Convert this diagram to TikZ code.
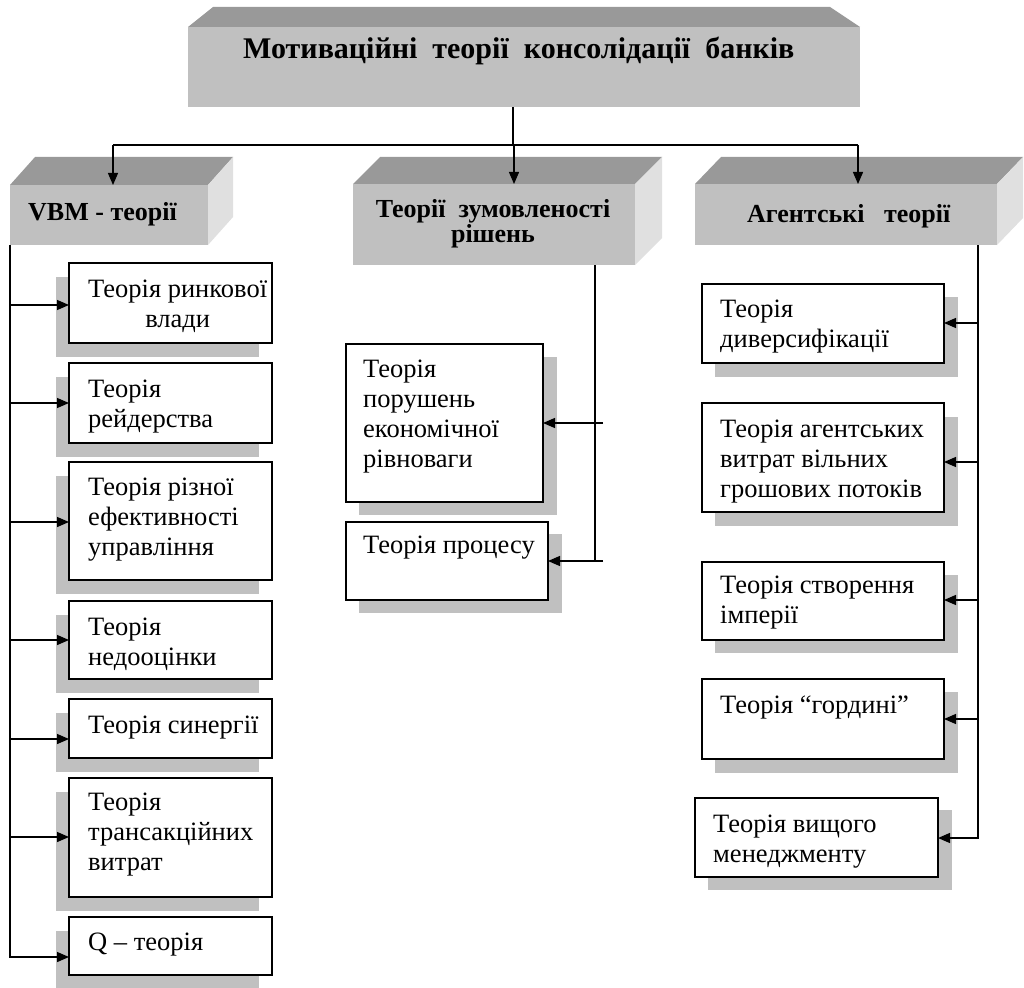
\documentclass[tikz,border=0pt]{standalone}
\usepackage{fontspec}
\setmainfont{LiberationSerif}[Extension=.ttf, UprightFont=*-Regular, BoldFont=*-Bold, ItalicFont=*-Italic, BoldItalicFont=*-BoldItalic]
\usetikzlibrary{arrows.meta}
\definecolor{frontgray}{HTML}{C0C0C0}
\definecolor{topgray}{HTML}{999999}
\definecolor{sidegray}{HTML}{E0E0E0}
\definecolor{shadowgray}{HTML}{C0C0C0}
\newcommand\bodyfont{\fontsize{26.5}{30}\selectfont}
\newcommand\headfont{\fontsize{26}{25}\selectfont\bfseries}
\newcommand\titlefont{\fontsize{30}{30}\selectfont\bfseries}
% box: name, x1, y1, x2, y2
\newcommand\bx[5]{\node[tb, minimum width={(#4-#2)*1pt}, minimum height={(#5-#3)*1pt}] (#1) at (#2,#3) {};}
% shadow: x1,y1,x2,y2
\newcommand\sh[4]{\fill[shad] (#1,#2) rectangle (#3,#4);}
% 3D box: name, x1, y1, x2, y2, dx, dy
\newcommand\cube[7]{%
  \fill[topgray] (#2,#3) -- (#2+#6,#3-#7) -- (#4+#6,#3-#7) -- (#4,#3) -- cycle;
  \fill[sidegray] (#4,#3) -- (#4+#6,#3-#7) -- (#4+#6,#5-#7) -- (#4,#5) -- cycle;
  \node[front, minimum width={(#4-#2)*1pt}, minimum height={(#5-#3)*1pt}] (#1) at (#2,#3) {};}
\tikzset{
  shad/.style={fill=shadowgray, draw=none},
  tb/.style={draw, line width=1.2pt, fill=white, inner sep=0pt, outer sep=0pt, anchor=north west},
  front/.style={fill=frontgray, draw=none, inner sep=0pt, outer sep=0pt, anchor=north west},
  tt/.style={anchor=north west, inner sep=0pt, align=left, font=\bodyfont},
  ht/.style={inner sep=0pt, font=\headfont},
  ln/.style={line width=1.3pt},
  arr/.style={line width=1.3pt, -{Triangle[length=12pt,width=10pt]}},
}
\begin{document}
\begin{tikzpicture}[x=1pt, y=-1pt]
\useasboundingbox (0,0) rectangle (1024,987);
\fill[white] (0,0) rectangle (1024,987);

% ---------- 3D headers ----------
\fill[topgray] (188,27) -- (213,7) -- (830,7) -- (860,27) -- cycle;
\node[front, minimum width=672pt, minimum height=80pt] (title) at (188,27) {};
\cube{vbm}{10}{185}{208}{245}{25}{28}
\cube{mid}{353}{184}{635}{265}{27}{27}
\cube{agt}{695}{184}{997}{245}{26}{27}

\node[inner sep=0pt, font=\titlefont, anchor=base west] (ttl) at (243,59) {Мотиваційні\ \ теорії\ \ консолідації\ \ банків};
\node[ht, anchor=base west] (hv) at (28,220) {VBM - теорії};
\node[ht, anchor=north, align=center] (hm) at (493,197) {\rule{0pt}{20pt}Теорії\ \ зумовленості\\рішень};
\node[ht, anchor=base west] (ha) at (747,222) {Агентські\ \ \ теорії};

% ---------- shadows ----------
\sh{56}{277}{259}{357}
\sh{56}{377}{259}{457}
\sh{56}{476}{259}{594}
\sh{56}{615}{259}{693}
\sh{56}{713}{259}{772}
\sh{56}{792}{259}{911}
\sh{56}{931}{259}{989}
\sh{359}{357}{557}{515}
\sh{359}{534}{562}{613}
\sh{715}{297}{958}{377}
\sh{715}{417}{958}{526}
\sh{715}{575}{958}{653}
\sh{715}{692}{958}{773}
\sh{708}{810}{952}{890}

% ---------- boxes ----------
\bx{rv}{69}{263}{272}{343}
\bx{rd}{69}{363}{272}{443}
\bx{rz}{69}{462}{272}{580}
\bx{nd}{69}{601}{272}{679}
\bx{sn}{69}{699}{272}{758}
\bx{tr}{69}{778}{272}{897}
\bx{q}{69}{917}{272}{975}
\bx{pe}{346}{344}{543}{502}
\bx{pr}{346}{522}{548}{600}
\bx{dv}{702}{284}{944}{363}
\bx{ag}{702}{403}{944}{512}
\bx{st}{702}{562}{944}{640}
\bx{gr}{702}{679}{944}{759}
\bx{vy}{695}{798}{938}{877}

% ---------- texts ----------
\node[tt, align=center] (trv) at (88,277) {\rule{0pt}{20pt}Теорія ринкової\\влади};
\node[tt] (trd) at (88,377) {\rule{0pt}{20pt}Теорія\\рейдерства};
\node[tt] (trz) at (88,475) {\rule{0pt}{20pt}Теорія різної\\ефективності\\управління};
\node[tt] (tnd) at (88,615) {\rule{0pt}{20pt}Теорія\\недооцінки};
\node[tt] (tsn) at (88,713) {\rule{0pt}{20pt}Теорія синергії};
\node[tt] (ttr) at (88,790) {\rule{0pt}{20pt}Теорія\\трансакційних\\витрат};
\node[tt] (tq) at (88,930) {\rule{0pt}{20pt}Q – теорія};
\node[tt] (tpe) at (363,357) {\rule{0pt}{20pt}Теорія\\порушень\\економічної\\рівноваги};
\node[tt] (tpr) at (363,533) {\rule{0pt}{20pt}Теорія процесу};
\node[tt] (tdv) at (720,297) {\rule{0pt}{20pt}Теорія\\диверсифікації};
\node[tt] (tag) at (720,417) {\rule{0pt}{20pt}Теорія агентських\\витрат вільних\\грошових потоків};
\node[tt] (tst) at (720,573) {\rule{0pt}{20pt}Теорія створення\\імперії};
\node[tt] (tgr) at (720,693) {\rule{0pt}{20pt}Теорія “гордині”};
\node[tt] (tvy) at (713,812) {\rule{0pt}{20pt}Теорія вищого\\менеджменту};

% ---------- top connectors ----------
\coordinate (j0) at (513,145);
\coordinate (jl) at (113,145);
\coordinate (jm) at (514,145);
\coordinate (jr) at (858,145);
\draw[ln] (title.south -| j0) -- (j0);
\draw[ln] (jl) -- (jr);
\draw[arr] (jl) -- (jl |- vbm.north);
\draw[arr] (jm) -- (jm |- mid.north);
\draw[arr] (jr) -- (jr |- agt.north);

% ---------- left bus ----------
\coordinate (lb) at (10,957);
\draw[arr] (vbm.south west) -- (lb) -- (lb -| q.west);
\coordinate (l1) at (10,305);
\coordinate (l2) at (10,403);
\coordinate (l3) at (10,522);
\coordinate (l4) at (10,640);
\coordinate (l5) at (10,739);
\coordinate (l6) at (10,837);
\draw[arr] (l1) -- (l1 -| rv.west);
\draw[arr] (l2) -- (l2 -| rd.west);
\draw[arr] (l3) -- (l3 -| rz.west);
\draw[arr] (l4) -- (l4 -| nd.west);
\draw[arr] (l5) -- (l5 -| sn.west);
\draw[arr] (l6) -- (l6 -| tr.west);

% ---------- middle bus ----------
\coordinate (mt) at (595,265);
\coordinate (mb) at (595,561);
\draw[ln] (mt) -- (mb);
\coordinate (m1) at (603,423);
\coordinate (m2) at (603,561);
\draw[arr] (m1) -- (m1 -| pe.east);
\draw[arr] (m2) -- (m2 -| pr.east);

% ---------- right bus ----------
\coordinate (rt) at (978,245);
\coordinate (rb) at (978,838);
\draw[arr] (rt) -- (rb) -- (rb -| vy.east);
\coordinate (r1) at (978,323);
\coordinate (r2) at (978,462);
\coordinate (r3) at (978,600);
\coordinate (r4) at (978,719);
\draw[arr] (r1) -- (r1 -| dv.east);
\draw[arr] (r2) -- (r2 -| ag.east);
\draw[arr] (r3) -- (r3 -| st.east);
\draw[arr] (r4) -- (r4 -| gr.east);
\end{tikzpicture}
\end{document}
